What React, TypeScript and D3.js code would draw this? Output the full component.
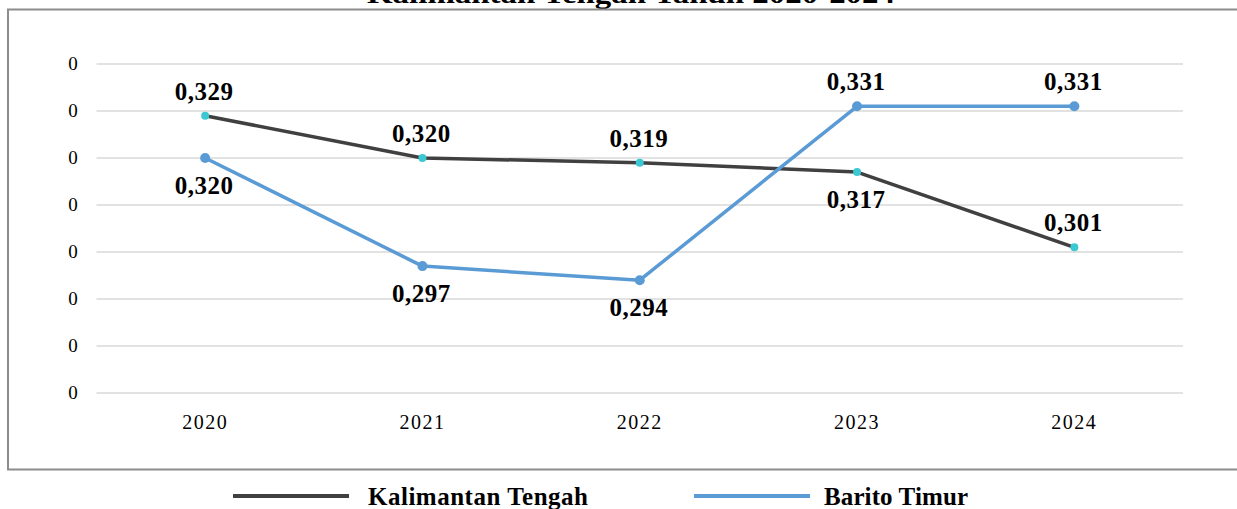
import React from "react";
import * as d3 from "d3";

const years = ["2020", "2021", "2022", "2023", "2024"];
const kaltengValues = [0.329, 0.32, 0.319, 0.317, 0.301];
const baritoValues = [0.32, 0.297, 0.294, 0.331, 0.331];
const yTicks = [0.27, 0.28, 0.29, 0.3, 0.31, 0.32, 0.33, 0.34];
const kaltengLabelPos = ["above", "above", "above", "below", "above"];
const baritoLabelPos = ["below", "below", "below", "above", "above"];
const seriesNames = ["Kalimantan Tengah", "Barito Timur"];
const title = "Kalimantan Tengah Tahun 2020-2024";

const W = 1237;
const H = 509;
const left = 96.5;
const right = 1183;
const serif = "'Liberation Serif', 'Times New Roman', serif";

export default function App() {
  const x = d3.scalePoint<string>().domain(years).range([left, right]).padding(0.5);
  const y = d3.scaleLinear().domain([0.27, 0.34]).range([393, 64]);
  const fmt = (v: number) => d3.format(".3f")(v).replace(".", ",");

  const line = d3
    .line<number>()
    .x((_, i) => x(years[i]) as number)
    .y((d) => y(d));

  const series = [
    { name: seriesNames[0], values: kaltengValues, pos: kaltengLabelPos, color: "#404040", marker: "#3cc8d2", r: 4 },
    { name: seriesNames[1], values: baritoValues, pos: baritoLabelPos, color: "#5b9bd5", marker: "#5b9bd5", r: 5 },
  ];

  return (
    <svg
      width={W}
      height={H}
      style={{ position: "absolute", left: 0, top: 0, background: "#fff" }}
      fontFamily={serif}
    >
      <text x={631} y={3} textAnchor="middle" fontSize={27} fontWeight="bold" textLength={528} lengthAdjust="spacingAndGlyphs">
        {title}
      </text>
      <rect x={8} y={9.5} width={1240} height={460} fill="none" stroke="#8c8c8c" strokeWidth={2} />
      {yTicks.map((t) => (
        <g key={t}>
          <line x1={left} x2={right} y1={y(t)} y2={y(t)} stroke="#d9d9d9" strokeWidth={1.5} />
          <text x={73} y={y(t) + 6} textAnchor="middle" fontSize={19}>
            {d3.format(".0f")(t)}
          </text>
        </g>
      ))}
      {years.map((yr) => (
        <text key={yr} x={x(yr)} y={429} textAnchor="middle" fontSize={20} letterSpacing={1.5}>
          {yr}
        </text>
      ))}
      {series.map((s) => (
        <g key={s.name}>
          <path d={line(s.values) || ""} fill="none" stroke={s.color} strokeWidth={3.5} strokeLinejoin="round" />
          {s.values.map((v, i) => (
            <circle key={i} cx={x(years[i])} cy={y(v)} r={s.r} fill={s.marker} />
          ))}
          {s.values.map((v, i) => (
            <text
              key={"l" + i}
              x={(x(years[i]) as number) - 1}
              y={s.pos[i] === "above" ? y(v) - 16 : y(v) + 36}
              textAnchor="middle"
              fontSize={25}
              fontWeight="bold"
              letterSpacing={0.5}
            >
              {fmt(v)}
            </text>
          ))}
        </g>
      ))}
      <g>
        <line x1={233} x2={349} y1={496} y2={496} stroke="#404040" strokeWidth={4} />
        <text x={368} y={505} fontSize={25} fontWeight="bold" textLength={220} lengthAdjust="spacing">
          {seriesNames[0]}
        </text>
        <line x1={694} x2={810} y1={496} y2={496} stroke="#5b9bd5" strokeWidth={4} />
        <text x={824} y={505} fontSize={25} fontWeight="bold" textLength={144} lengthAdjust="spacing">
          {seriesNames[1]}
        </text>
      </g>
    </svg>
  );
}
